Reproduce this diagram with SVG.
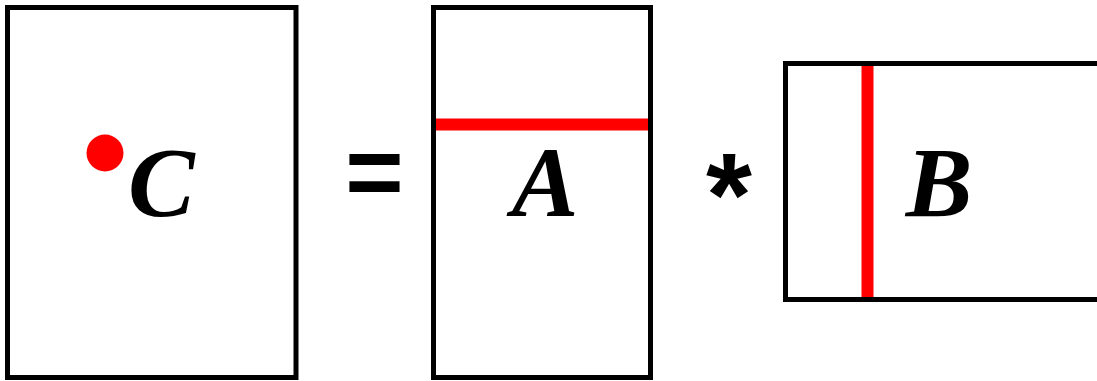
<svg xmlns="http://www.w3.org/2000/svg" width="1097" height="381" viewBox="0 0 1097 381">
<style>
.box{fill:#fff;stroke:#000;stroke-width:5}
.red{stroke:#f00;stroke-width:12}
.lbl{font-family:"Liberation Serif",serif;font-weight:bold;font-style:italic;font-size:100px;fill:#000}
.op{font-family:"Liberation Sans",sans-serif;font-weight:bold;font-size:100px;fill:#000}
</style>
<rect width="1097" height="381" fill="#fff"/>
<g id="matrixC">
<rect class="box" x="7.5" y="7.5" width="288.5" height="370"/>
<circle cx="105" cy="153" r="18.5" fill="#f00"/>
<text class="lbl" x="128" y="216">C</text>
</g>
<g id="equals">
<text class="op" x="374.5" y="206" text-anchor="middle">=</text>
</g>
<g id="matrixA">
<rect class="box" x="433.5" y="7.5" width="217" height="370"/>
<line class="red" x1="436" y1="124.5" x2="648" y2="124.5"/>
<text class="lbl" x="545" y="216" text-anchor="middle">A</text>
</g>
<g id="times">
<text class="op" x="729" y="236" text-anchor="middle" style="font-size:118px">*</text>
</g>
<g id="matrixB">
<rect class="box" x="785.5" y="63.5" width="330" height="236"/>
<line class="red" x1="867.5" y1="66" x2="867.5" y2="297"/>
<text class="lbl" x="939" y="216" text-anchor="middle">B</text>
</g>
<g id="connectors"/>
</svg>
